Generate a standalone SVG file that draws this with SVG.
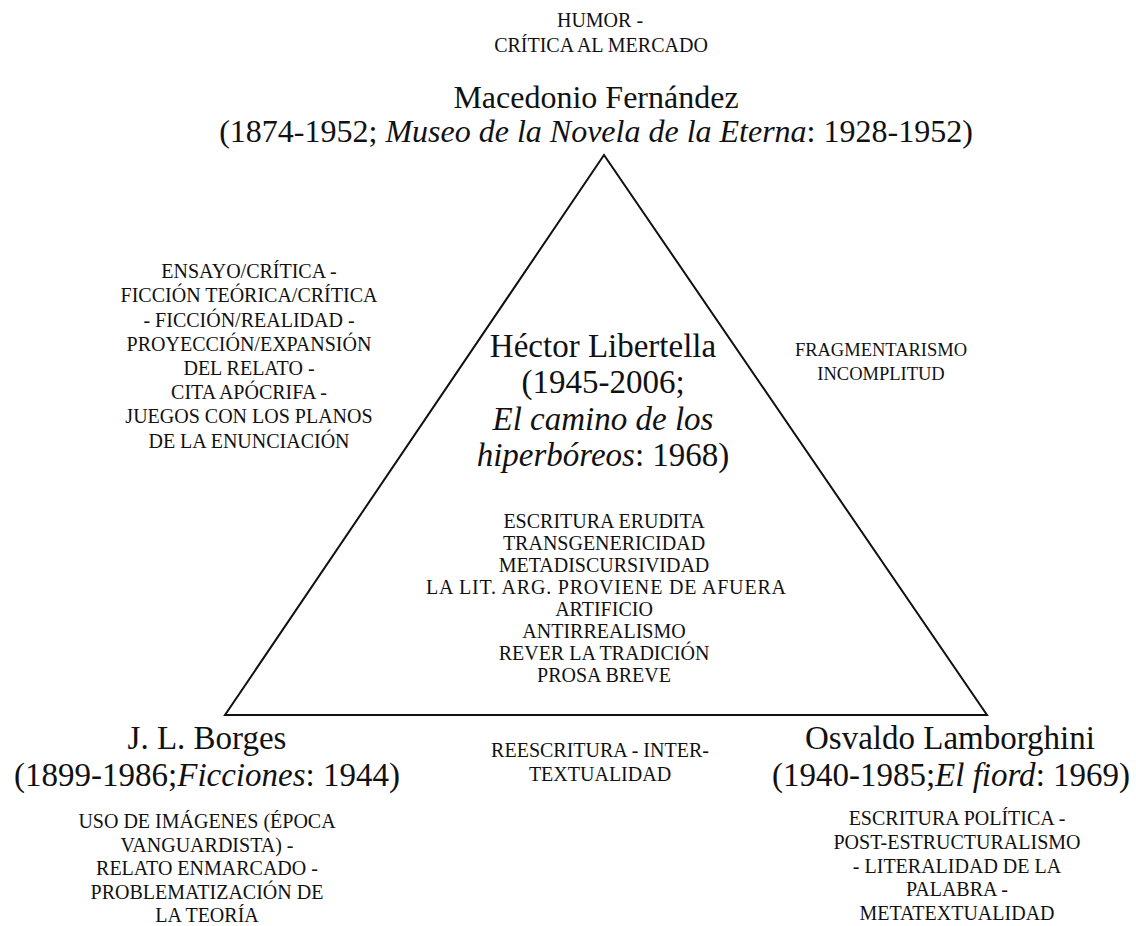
<svg xmlns="http://www.w3.org/2000/svg" width="1136" height="926" viewBox="0 0 1136 926">
<style>
text{font-family:"Liberation Serif","Times New Roman",serif;fill:#111;text-anchor:middle}
.s{font-size:20px}
.f{font-size:18.5px}
.b{font-size:32px}
.h{font-size:33px}
.i{font-style:italic}
</style>
<rect width="1136" height="926" fill="#fff"/>
<g id="connectors">
<polygon points="604,155 225,715 987,715" fill="none" stroke="#111" stroke-width="2"/>
</g>
<g id="macedonio">
<text class="s" x="600" y="27">HUMOR -</text>
<text class="s" x="601" y="52">CRÍTICA AL MERCADO</text>
<text class="b" x="596" y="108">Macedonio Fernández</text>
<text class="b" x="596" y="142">(1874-1952; <tspan class="i">Museo de la Novela de la Eterna</tspan>: 1928-1952)</text>
</g>
<g id="left-features">
<text class="s" x="249" y="278">ENSAYO/CRÍTICA -</text>
<text class="s" x="249" y="302">FICCIÓN TEÓRICA/CRÍTICA</text>
<text class="s" x="249" y="327">- FICCIÓN/REALIDAD -</text>
<text class="s" x="249" y="351">PROYECCIÓN/EXPANSIÓN</text>
<text class="s" x="249" y="375">DEL RELATO -</text>
<text class="s" x="249" y="399">CITA APÓCRIFA -</text>
<text class="s" x="249" y="423">JUEGOS CON LOS PLANOS</text>
<text class="s" x="249" y="448">DE LA ENUNCIACIÓN</text>
</g>
<g id="right-features">
<text class="f" x="881" y="356">FRAGMENTARISMO</text>
<text class="f" x="881" y="380">INCOMPLITUD</text>
</g>
<g id="libertella">
<text class="h" x="603" y="357">Héctor Libertella</text>
<text class="h" x="603" y="393">(1945-2006;</text>
<text class="h i" x="603" y="430">El camino de los</text>
<text class="h" x="603" y="466"><tspan class="i">hiperbóreos</tspan>: 1968)</text>
<text class="s" x="604" y="528">ESCRITURA ERUDITA</text>
<text class="s" x="604" y="550">TRANSGENERICIDAD</text>
<text class="s" x="604" y="572">METADISCURSIVIDAD</text>
<text class="s" x="606" y="594" textLength="360" lengthAdjust="spacing">LA LIT. ARG. PROVIENE DE AFUERA</text>
<text class="s" x="604" y="616">ARTIFICIO</text>
<text class="s" x="604" y="638">ANTIRREALISMO</text>
<text class="s" x="604" y="660">REVER LA TRADICIÓN</text>
<text class="s" x="604" y="682">PROSA BREVE</text>
</g>
<g id="borges">
<text class="h" x="207" y="749">J. L. Borges</text>
<text class="h" x="207" y="786">(1899-1986;<tspan class="i">Ficciones</tspan>: 1944)</text>
<text class="s" x="207" y="828">USO DE IMÁGENES (ÉPOCA</text>
<text class="s" x="207" y="852">VANGUARDISTA) -</text>
<text class="s" x="207" y="875">RELATO ENMARCADO -</text>
<text class="s" x="207" y="899">PROBLEMATIZACIÓN DE</text>
<text class="s" x="207" y="922">LA TEORÍA</text>
</g>
<g id="base-features">
<text class="s" x="600" y="757">REESCRITURA - INTER-</text>
<text class="s" x="600" y="781">TEXTUALIDAD</text>
</g>
<g id="lamborghini">
<text class="h" x="950" y="749">Osvaldo Lamborghini</text>
<text class="h" x="951" y="786">(1940-1985;<tspan class="i">El fiord</tspan>: 1969)</text>
<text class="s" x="957" y="825">ESCRITURA POLÍTICA -</text>
<text class="s" x="957" y="849">POST-ESTRUCTURALISMO</text>
<text class="s" x="957" y="873">- LITERALIDAD DE LA</text>
<text class="s" x="957" y="896">PALABRA -</text>
<text class="s" x="957" y="920">METATEXTUALIDAD</text>
</g>
</svg>
